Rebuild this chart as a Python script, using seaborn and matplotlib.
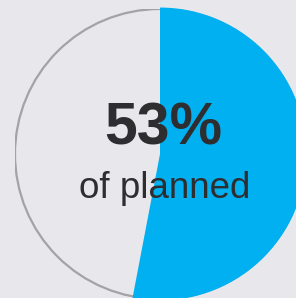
import matplotlib
matplotlib.use("Agg")
import matplotlib.pyplot as plt
import seaborn as sns
from matplotlib.patches import Circle

# data
labels = ["Done", "Remaining"]
shares = [53, 47]
headline = "53%"
subline = "of planned"

bg = "#e8e8ec"
blue = "#00b0f0"

sns.set_theme(style="white")
plt.rcParams["font.family"] = ["Liberation Sans", "DejaVu Sans"]

fig = plt.figure(figsize=(2.96, 2.98), dpi=100, facecolor=bg)
# circle centre at pixel (160, 154), radius 145, partly off the canvas
ax = fig.add_axes([15 / 296, (298 - 154 - 145) / 298, 290 / 296, 290 / 298])
ax.set_facecolor(bg)

ax.add_patch(Circle((0, 0), 1.0, facecolor=bg, edgecolor="#a3a3a6", linewidth=1.6, zorder=1))
wedges, _ = ax.pie(shares, colors=[blue, "none"], startangle=90, counterclock=False,
                   radius=1.01, wedgeprops=dict(linewidth=0))
for w in wedges:
    w.set_zorder(2)

ax.text(0.02, 0.17, headline, ha="center", va="center", fontsize=42.5,
        fontweight="bold", color="#2e2e30", zorder=3)
ax.text(0.03, -0.235, subline, ha="center", va="center", fontsize=26.5,
        color="#2e2e30", zorder=3)

ax.set_xlim(-1, 1)
ax.set_ylim(-1, 1)
ax.set_aspect("auto")
ax.axis("off")

fig.savefig("out.png", dpi=100, facecolor=bg)
